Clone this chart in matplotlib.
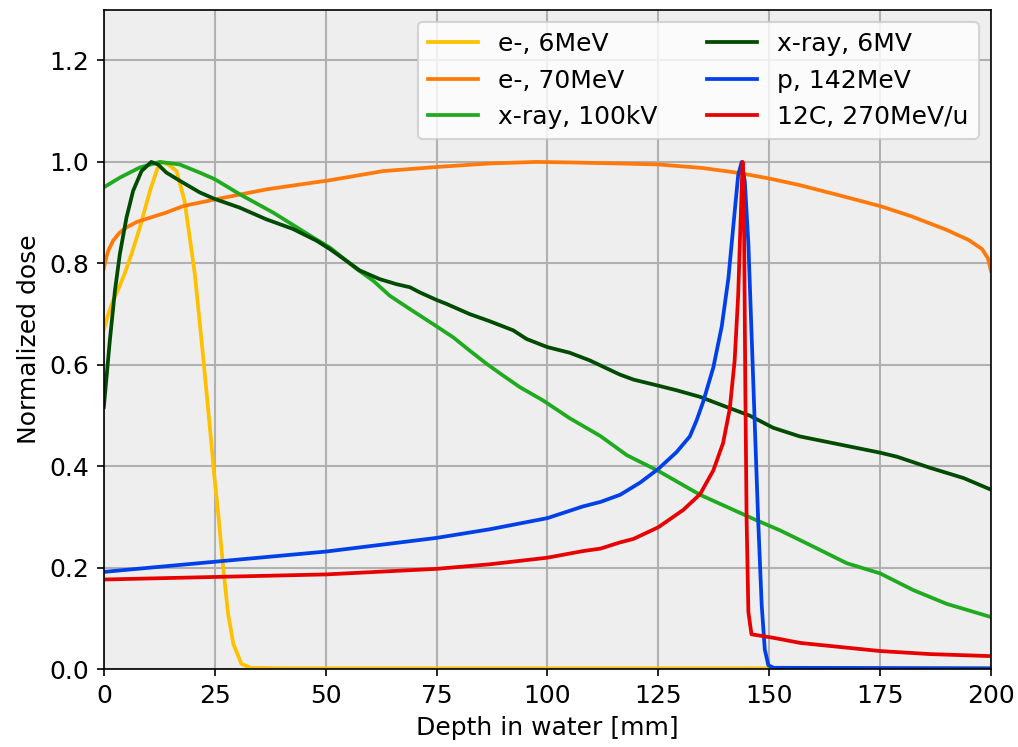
import matplotlib
matplotlib.use("Agg")
import matplotlib.pyplot as plt

# depth in water [mm] and normalized dose
e6_depth = [0, 1, 2, 3.3, 4.7, 6.3, 8.1, 10.4, 12, 13, 14.5, 16.4, 18.2, 20.5, 22.4,
            24.3, 24.8, 25.8, 26.9, 28, 29.2, 31, 33, 40, 200]
e6_dose = [0.67, 0.70, 0.725, 0.75, 0.78, 0.82, 0.87, 0.943, 0.985, 1.0, 0.995, 0.982,
           0.923, 0.78, 0.615, 0.44, 0.39, 0.306, 0.201, 0.11, 0.05, 0.011, 0.003,
           0.002, 0.002]

e70_depth = [0, 0.5, 1, 2.1, 3.5, 5.1, 7.5, 10.4, 14, 17.9, 25, 36.7, 51, 63, 75, 87,
             97.5, 105, 116, 125, 135, 143.4, 150.2, 157, 165, 175, 182, 190, 195,
             198, 199.3, 200]
e70_dose = [0.79, 0.81, 0.825, 0.845, 0.86, 0.871, 0.882, 0.89, 0.90, 0.913, 0.926,
            0.946, 0.964, 0.982, 0.99, 0.997, 1.0, 0.999, 0.997, 0.995, 0.988, 0.978,
            0.967, 0.954, 0.936, 0.913, 0.893, 0.866, 0.846, 0.828, 0.81, 0.785]

kv100_depth = [0, 3.6, 8.1, 12.6, 17.1, 21.6, 25, 30.7, 38.2, 47.2, 51, 57, 60.7,
               64.5, 69, 75, 78.8, 82.5, 86.3, 90, 93.8, 99, 105, 111.9, 117.9, 125,
               134.4, 146.8, 152.4, 159.9, 167.5, 175, 182.5, 190, 200]
kv100_dose = [0.95, 0.969, 0.989, 1.0, 0.995, 0.979, 0.966, 0.936, 0.9, 0.851, 0.831,
              0.789, 0.766, 0.736, 0.71, 0.676, 0.654, 0.628, 0.602, 0.579, 0.556,
              0.53, 0.495, 0.46, 0.422, 0.391, 0.344, 0.295, 0.274, 0.242, 0.209,
              0.189, 0.156, 0.129, 0.103]

mv6_depth = [0, 1.35, 2.5, 3.6, 5.1, 6.6, 8.5, 10.7, 12.2, 14.1, 17.1, 21.6, 25,
             30.6, 36.6, 42.6, 47.9, 51, 54.7, 57.7, 62.2, 66, 69, 71.2, 75, 77.3,
             82.5, 87, 92.3, 95.3, 100, 105, 109.5, 116.3, 119.4, 125, 129.1, 134.4,
             140.4, 145.6, 150.9, 156.9, 163.7, 175, 178.8, 186.3, 193.8, 200]
mv6_dose = [0.517, 0.648, 0.746, 0.818, 0.89, 0.943, 0.982, 1.0, 0.995, 0.979, 0.963,
            0.94, 0.927, 0.91, 0.887, 0.868, 0.845, 0.828, 0.805, 0.786, 0.769, 0.759,
            0.753, 0.743, 0.728, 0.72, 0.70, 0.686, 0.668, 0.651, 0.635, 0.624, 0.609,
            0.581, 0.571, 0.559, 0.55, 0.537, 0.517, 0.50, 0.476, 0.459, 0.447, 0.427,
            0.419, 0.397, 0.377, 0.354]

p_depth = [0, 25, 50, 63, 75, 87, 100, 108, 112, 116.4, 120.9, 125, 129.1, 132.1,
           133.6, 135.1, 137.4, 139.3, 140.8, 141.9, 143, 143.8, 144.5, 145.3, 146.4,
           147.5, 148.3, 149, 149.8, 151, 200]
p_dose = [0.192, 0.212, 0.232, 0.246, 0.259, 0.276, 0.298, 0.321, 0.33, 0.344, 0.368,
          0.395, 0.428, 0.459, 0.49, 0.527, 0.595, 0.676, 0.771, 0.873, 0.974, 1.0,
          0.961, 0.839, 0.567, 0.296, 0.127, 0.039, 0.008, 0.003, 0.002]

c12_depth = [0, 25, 50, 75, 87, 100, 108, 112, 116.3, 119.4, 125, 130.6, 134.4,
             137.4, 139.6, 141.1, 142.2, 143, 143.5, 144, 144.3, 144.6, 144.9, 145.3,
             146, 151, 157, 163.7, 175, 186.3, 200]
c12_dose = [0.177, 0.182, 0.187, 0.198, 0.207, 0.22, 0.233, 0.238, 0.25, 0.257, 0.28,
            0.314, 0.345, 0.392, 0.446, 0.513, 0.608, 0.737, 0.873, 1.0, 0.907, 0.567,
            0.296, 0.113, 0.069, 0.062, 0.052, 0.046, 0.036, 0.030, 0.026]

curves = [
    (e6_depth, e6_dose, "e-, 6MeV", "#ffc000"),
    (e70_depth, e70_dose, "e-, 70MeV", "#ff7a0a"),
    (kv100_depth, kv100_dose, "x-ray, 100kV", "#1faa1f"),
    (mv6_depth, mv6_dose, "x-ray, 6MV", "#004b00"),
    (p_depth, p_dose, "p, 142MeV", "#0040e8"),
    (c12_depth, c12_dose, "12C, 270MeV/u", "#e80000"),
]

plt.rcParams["font.size"] = 12

fig, ax = plt.subplots(figsize=(1018 / 150, 747 / 150), dpi=150)
fig.subplots_adjust(left=0.102, right=0.9735, top=0.987, bottom=0.104)

ax.set_facecolor("#eeeeee")
ax.set_axisbelow(True)
ax.grid(True, color="#b0b0b0", linewidth=1.0)

for depth, dose, label, color in curves:
    ax.plot(depth, dose, color=color, linewidth=1.8, label=label)

ax.set_xlim(0, 200)
ax.set_ylim(0, 1.3)
ax.set_xticks([0, 25, 50, 75, 100, 125, 150, 175, 200])
ax.set_yticks([0.0, 0.2, 0.4, 0.6, 0.8, 1.0, 1.2])
ax.set_xlabel("Depth in water [mm]")
ax.set_ylabel("Normalized dose")
ax.legend(loc="upper right", ncol=2, fontsize=12)

fig.savefig("out.png", dpi=150)
